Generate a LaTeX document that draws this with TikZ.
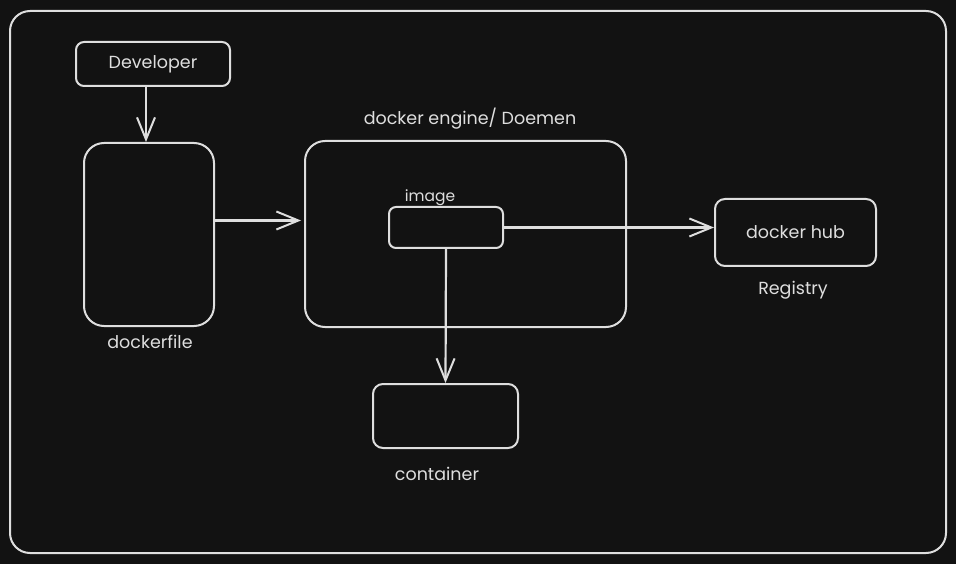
\documentclass[tikz,border=0pt]{standalone}
\usepackage{fontspec}
\setmainfont{Poppins}
\usetikzlibrary{arrows.meta}
\definecolor{board}{HTML}{121212}
\definecolor{chalk}{HTML}{DEDEDE}
\tikzset{
  box/.style={draw=chalk, line width=2pt, rounded corners=#1, inner sep=0pt},
  box/.default=10pt,
  txt/.style={text=chalk, font=\fontsize{17.5}{21}\selectfont, inner sep=0pt},
  arr/.style={draw=chalk, line width=2.2pt, -{Straight Barb[length=22pt,width=18pt,line width=2pt]}}
}
\begin{document}
\begin{tikzpicture}[x=1pt, y=-1pt]
% Set the board and the frame
\fill[board] (0,0) rectangle (956,564);
\useasboundingbox (0,0) rectangle (956,564);
\draw[chalk, line width=2pt, rounded corners=20pt] (10,11) rectangle (946,553);

% Draw the boxes
\node[box=8pt, minimum width=154pt, minimum height=44pt] (dev) at (153,64) {};
\node[txt] (devtxt) at (dev.center) {Developer};
\node[box=20pt, minimum width=130pt, minimum height=183pt] (df) at (149,234.5) {};
\node[txt] (dflbl) at (150,342) {dockerfile};
\node[box=20pt, minimum width=321pt, minimum height=186pt] (eng) at (465.5,234) {};
\node[txt] (englbl) at (470,119) {docker engine/ Doemen};
\node[box=7pt, minimum width=114pt, minimum height=41pt] (img) at (446,227.5) {};
\node[txt, font=\fontsize{15.5}{18}\selectfont] (imglbl) at (430,198) {image};
\node[box=10pt, minimum width=161pt, minimum height=67pt] (hub) at (795.5,232.5) {};
\node[txt] (hubtxt) at (hub.center) {docker hub};
\node[txt] (hublbl) at (793,290) {Registry};
\node[box=10pt, minimum width=145pt, minimum height=64pt] (cont) at (445.5,416) {};
\node[txt] (contlbl) at (437,474) {container};

% Draw the arrows
\draw[arr] ([xshift=-7pt]dev.south) -- ([xshift=-3pt]df.north);
\draw[arr] ([yshift=14pt]df.east) -- ([yshift=14pt,xshift=-3pt]df.east -| eng.west);
\draw[arr] (img.east) -- (img.east -| hub.west);
\draw[arr] (img.south) -- (cont.north);
\end{tikzpicture}
\end{document}
